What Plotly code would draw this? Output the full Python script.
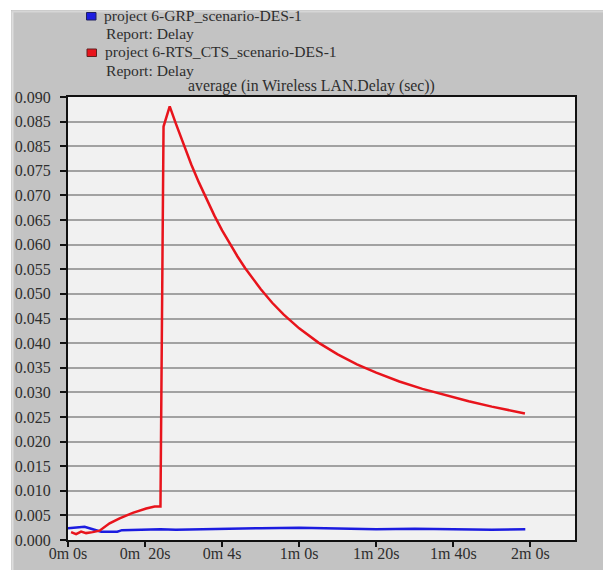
import plotly.graph_objects as go

# ---- data -------------------------------------------------------------
# GRP scenario: average wireless LAN delay (sec) over simulation time (sec)
grp_time = [0, 2, 4.3, 6, 8.6, 10.5, 12.8, 14, 17, 20, 24, 28, 33, 40, 50,
            60, 70, 80, 90, 100, 110, 118.7]
grp_delay = [0.0024, 0.0025, 0.0027, 0.0023, 0.0017, 0.0017, 0.0017, 0.0020,
             0.0021, 0.0022, 0.0022, 0.0021, 0.0022, 0.0023, 0.0024,
             0.0025, 0.0023, 0.0022, 0.0023, 0.0022, 0.0021, 0.0022]

# RTS/CTS scenario
rts_time = [0.8, 2.1, 3.4, 4.7, 6.4, 8.2, 10.8, 13.4, 16.8, 20.3, 22.5, 24.0,
            24.8, 26.4, 28, 30, 32, 34, 36, 38, 40, 42, 44, 46, 48, 50, 53,
            56, 60, 65, 70, 75, 80, 86, 92, 98, 104, 110, 114, 118.6]
rts_delay = [0.0016, 0.0012, 0.0017, 0.0014, 0.0016, 0.0019, 0.0034, 0.0044,
             0.0055, 0.0064, 0.0068, 0.0068,
             0.0840, 0.0881, 0.0846, 0.0803, 0.0763, 0.0726, 0.0691, 0.0659,
             0.0629, 0.0601, 0.0576, 0.0552, 0.0530, 0.0510, 0.0482, 0.0458,
             0.0430, 0.0401, 0.0377, 0.0357, 0.0340, 0.0322, 0.0307, 0.0294,
             0.0282, 0.0271, 0.0264, 0.0257]

x_tick_vals = [0, 20, 40, 60, 80, 100, 120]
x_tick_text = ["0m 0s", "0m\u00a0 20s", "0m 4s", "1m 0s", "1m 20s", "1m 40s", "2m 0s"]
y_tick_vals = [i * 0.005 for i in range(19)]
y_tick_text = ["0.000", "0.005", "0.010", "0.015", "0.020", "0.025", "0.030",
               "0.035", "0.040", "0.045", "0.050", "0.055", "0.060", "0.065",
               "0.070", "0.075", "0.085", "0.085", "0.090"]

legend_lines = ["project 6-GRP_scenario-DES-1", "Report: Delay",
                "project 6-RTS_CTS_scenario-DES-1", "Report: Delay"]
y_title = "average (in Wireless LAN.Delay (sec))"

# ---- layout geometry (pixels) ----------------------------------------
W, H = 603, 570
L, R, T, B = 68, 28, 97, 30
PW, PH = W - L - R, H - T - B


def px(x):
    return (x - L) / PW


def py(y):
    return (H - B - y) / PH


FONT = "Liberation Serif"
TXT = "#2e2e2e"
BLUE = "#1c1ce0"
RED = "#e8141c"

fig = go.Figure()
fig.add_trace(go.Scatter(x=grp_time, y=grp_delay, mode="lines",
                         line=dict(color=BLUE, width=2.5), showlegend=False))
fig.add_trace(go.Scatter(x=rts_time, y=rts_delay, mode="lines",
                         line=dict(color=RED, width=2.5), showlegend=False))

shapes = [
    # white strips round the grey panel
    dict(type="rect", xref="paper", yref="paper", x0=px(0), x1=px(W),
         y0=py(10), y1=py(0), fillcolor="white", line_width=0, layer="above"),
    dict(type="rect", xref="paper", yref="paper", x0=px(0), x1=px(11),
         y0=py(H), y1=py(0), fillcolor="white", line_width=0, layer="above"),
    dict(type="line", xref="paper", yref="paper", x0=px(12.5), x1=px(12.5),
         y0=py(H), y1=py(11), line=dict(color="#dedede", width=2), layer="above"),
    dict(type="line", xref="paper", yref="paper", x0=px(12), x1=px(W),
         y0=py(11.5), y1=py(11.5), line=dict(color="#d6d6d6", width=2), layer="above"),
    # legend swatches
    dict(type="rect", xref="paper", yref="paper", x0=px(86.5), x1=px(96),
         y0=py(20), y1=py(12.5), fillcolor=BLUE, line=dict(color="#202060", width=1),
         layer="above"),
    dict(type="rect", xref="paper", yref="paper", x0=px(87), x1=px(96.5),
         y0=py(56.5), y1=py(49), fillcolor=RED, line=dict(color="#602020", width=1),
         layer="above"),
]

annotations = []
legend_pos = [(102, 15), (103.5, 33.5), (102.5, 52), (103.5, 70.5)]
for text, (lx, ly) in zip(legend_lines, legend_pos):
    annotations.append(dict(text=text, xref="paper", yref="paper", x=px(lx), y=py(ly),
                            xanchor="left", yanchor="middle", showarrow=False,
                            font=dict(family=FONT, size=15.6, color=TXT)))
annotations.append(dict(text=y_title, xref="paper", yref="paper", x=px(186), y=py(86),
                        xanchor="left", yanchor="middle", showarrow=False,
                        font=dict(family=FONT, size=15.8, color=TXT)))

fig.update_layout(
    width=W, height=H,
    margin=dict(l=L, r=R, t=T, b=B, pad=0),
    paper_bgcolor="#c3c3c3",
    plot_bgcolor="#f1f1f1",
    shapes=shapes,
    annotations=annotations,
    font=dict(family=FONT, size=16, color=TXT),
    xaxis=dict(range=[0, 131.6], tickvals=x_tick_vals, ticktext=x_tick_text,
               showgrid=False, zeroline=False, showline=True, mirror=True,
               linecolor="#111111", linewidth=2, ticks="outside", ticklen=5,
               tickwidth=1.5, tickcolor="#111111", ticklabelstandoff=-7,
               automargin=False,
               tickfont=dict(family=FONT, size=16, color=TXT)),
    yaxis=dict(range=[0, 0.090], tickvals=y_tick_vals, ticktext=y_tick_text,
               showgrid=True, gridcolor="#a2a2a2", gridwidth=1.5, zeroline=False,
               showline=True, mirror=True, linecolor="#111111", linewidth=2,
               ticks="outside", ticklen=6, tickwidth=1.5, tickcolor="#111111",
               ticklabelstandoff=6, automargin=False,
               tickfont=dict(family=FONT, size=16, color=TXT)),
)

fig.write_html("out.html")
